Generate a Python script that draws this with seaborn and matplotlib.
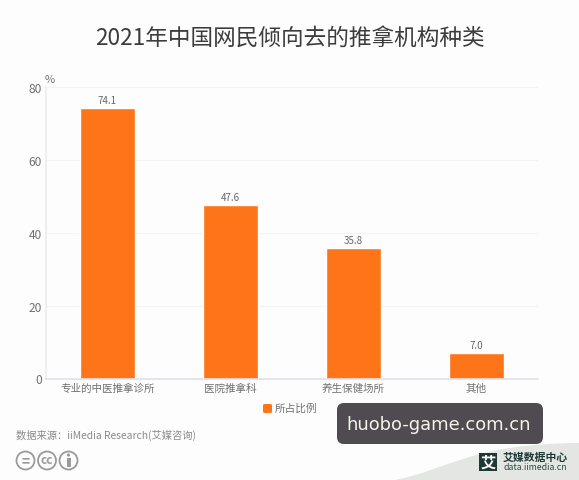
import matplotlib
matplotlib.use("Agg")
import matplotlib.pyplot as plt
from matplotlib.patches import FancyBboxPatch, Circle, PathPatch, Rectangle
from matplotlib.path import Path
import seaborn as sns
import pandas as pd

sns.set_theme(style="white")
plt.rcParams['font.family'] = ['Noto Sans CJK SC', 'DejaVu Sans']

TITLE = "2021年中国网民倾向去的推拿机构种类"
categories = ["专业的中医推拿诊所", "医院推拿科", "养生保健场所", "其他"]
values = [74.1, 47.6, 35.8, 7.0]
yticks = [0, 20, 40, 60, 80]
series_name = "所占比例"
source = "数据来源：iiMedia Research(艾媒咨询)"
watermark = "huobo-game.com.cn"

W, H = 579, 481
ORANGE = "#FD7518"
fig = plt.figure(figsize=(W / 100, H / 100), dpi=100, facecolor="#FDFDFD")
ax = fig.add_axes([46 / W, 1 - 379.5 / H, 492 / W, 291.5 / H])
ax.set_facecolor("none")

df = pd.DataFrame({"cat": categories, "val": values})
sns.barplot(data=df, x="cat", y="val", color=ORANGE, saturation=1, width=0.44, ax=ax)
ax.set_xlim(-0.5, 3.5)
ax.set_ylim(0, 80)
ax.set_yticks(yticks)
ax.set_xlabel("")
ax.set_ylabel("")
ax.grid(axis="y", color="#F4F4F2", lw=0.8)
ax.set_axisbelow(True)
for s in ["top", "right"]:
    ax.spines[s].set_visible(False)
ax.spines["left"].set_color("#EDEDF2")
ax.spines["bottom"].set_color("#E2E0E8")
ax.spines["bottom"].set_linewidth(1.2)
ax.tick_params(axis="both", length=0, colors="#707070")
ax.tick_params(axis="y", labelsize=8.6, pad=3)
ax.tick_params(axis="x", labelsize=7.6, pad=3)
for c in ax.containers:
    ax.bar_label(c, fmt="%.1f", fontsize=7, color="#666666", padding=2.5)

def T(x, y, s, **kw):
    return fig.text(x / W, 1 - y / H, s, **kw)

T(290, 38, TITLE, ha="center", va="center", fontsize=16.3, color="#3C3C3C")
T(50, 80, "%", ha="center", va="center", fontsize=8, color="#707070")

# legend
fig.add_artist(FancyBboxPatch((263 / W, 1 - 414 / H), 9 / W, 9 / H, transform=fig.transFigure,
                              boxstyle="round,pad=0,rounding_size=0.003", fc=ORANGE, ec="none"))
T(275, 408.5, series_name, ha="left", va="center", fontsize=7.7, color="#707070")
T(16, 435, source, ha="left", va="center", fontsize=7.4, color="#8A8A8A")

# licence badges, in a pixel-coordinate overlay
ov = fig.add_axes([0, 0, 1, 1], facecolor="none")
ov.set_xlim(0, W)
ov.set_ylim(H, 0)
ov.axis("off")
BADGE = "#9A9A9A"
for cx in [25.5, 47, 68.5]:
    ov.add_patch(Circle((cx, 461.5), 9, fc="none", ec=BADGE, lw=1.3))
ov.text(25.5, 461, "=", ha="center", va="center", fontsize=10, color=BADGE, fontweight="bold")
ov.text(47, 461, "cc", ha="center", va="center", fontsize=8.5, color=BADGE, fontweight="bold")
ov.add_patch(Circle((68.5, 456), 1.6, fc=BADGE, ec="none"))
ov.add_patch(Rectangle((66.5, 458.5), 4, 9, fc=BADGE, ec="none"))

# footer swoosh and logo
swoosh = Path([(395, 481), (450, 470), (470, 445), (579, 444), (579, 481), (395, 481)],
              [Path.MOVETO, Path.CURVE4, Path.CURVE4, Path.CURVE4, Path.LINETO, Path.CLOSEPOLY])
ov.add_patch(PathPatch(swoosh, fc="#E4E6E3", ec="none"))
ov.add_patch(Rectangle((479, 454), 18, 18, fc="#1F3A36", ec="none"))
ov.text(488, 463, "艾", ha="center", va="center", fontsize=11, color="white", fontweight="bold")
ov.text(535, 457.5, "艾媒数据中心", ha="center", va="center", fontsize=7.8, color="#1F3A36", fontweight="bold")
ov.text(535, 468, "data.iimedia.cn", ha="center", va="center", fontsize=6.3, color="#2A4A45")

# watermark
ov.add_patch(FancyBboxPatch((337, 404), 206, 41, boxstyle="round,pad=0,rounding_size=7",
                            fc="#4F4B51", ec="none"))
ov.text(439, 425.5, watermark, ha="center", va="center", fontsize=12.9, color="#F5F3EA",
        family="DejaVu Sans")

fig.savefig("out.png", dpi=100, facecolor=fig.get_facecolor())
